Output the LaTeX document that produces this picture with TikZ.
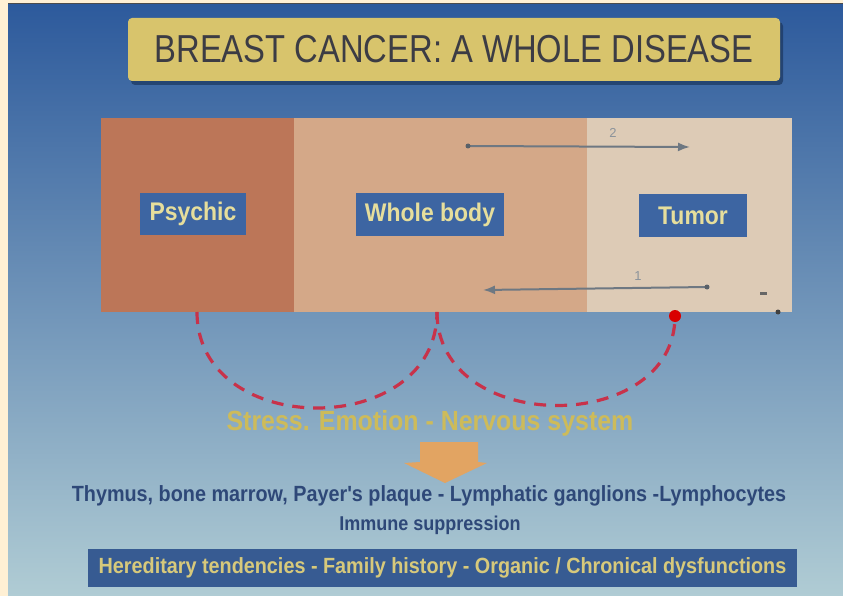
\documentclass[tikz,border=0pt]{standalone}
\usepackage{fontspec}
\setmainfont{Liberation Sans}
\newfontfamily\condfont[FakeStretch=0.9]{Liberation Sans}
\newfontfamily\titlefont[FakeStretch=0.84]{Liberation Sans}
\definecolor{cream}{HTML}{FFF0D4}
\definecolor{slidetop}{HTML}{2D5A9C}
\definecolor{slidemid}{HTML}{7FA5C8}
\definecolor{slidebottom}{HTML}{B0CCD4}
\definecolor{titlegold}{HTML}{D8C46C}
\definecolor{titleink}{HTML}{3C3C44}
\definecolor{psychred}{HTML}{BC7658}
\definecolor{bodytan}{HTML}{D4A888}
\definecolor{tumorbeige}{HTML}{DDCBB6}
\definecolor{labelblue}{HTML}{3D65A2}
\definecolor{labelyellow}{HTML}{E6DE9C}
\definecolor{arrowgray}{HTML}{6E7882}
\definecolor{dashred}{HTML}{C8324A}
\definecolor{stressgold}{HTML}{CDBB5A}
\definecolor{arrowtan}{HTML}{E2A462}
\definecolor{inkblue}{HTML}{2E4878}
\usetikzlibrary{arrows.meta,shadows}

\begin{document}
\begin{tikzpicture}[x=1pt,y=-1pt,
  labelbox/.style={fill=labelblue,text=labelyellow,inner sep=0pt,minimum height=42pt,
    font=\condfont\bfseries\fontsize{25.5}{28}\selectfont},
  flowline/.style={arrowgray,line width=2pt,-{Latex[length=12pt,width=9pt]}},
  reddash/.style={dashred,line width=3.2pt,dash pattern=on 12pt off 9pt}]
  \useasboundingbox (0,0) rectangle (843,596);
  \fill[cream] (0,0) rectangle (843,596);
  \shade[top color=slidetop,middle color=slidemid,bottom color=slidebottom] (8,4) rectangle (843,596);
  \draw[black!70,line width=1.5pt] (8,3.5) -- (843,3.5);

  \node[fill=titlegold,rounded corners=4pt,minimum width=652pt,minimum height=63pt,
    drop shadow={shadow xshift=3pt,shadow yshift=-4pt,fill=slidetop!60!black,opacity=0.7},
    text=titleink,font=\titlefont\fontsize{39}{44}\selectfont] (title) at (454,49.5)
    {BREAST CANCER: A WHOLE DISEASE};

  \fill[psychred] (101,118) rectangle (294,312);
  \fill[bodytan] (294,118) rectangle (587,312);
  \fill[tumorbeige] (587,118) rectangle (792,312);

  \node[labelbox,minimum width=106pt] (psychic) at (193,214) {Psychic};
  \node[labelbox,minimum width=148pt] (body) at (430,214.5) {Whole body};
  \node[labelbox,minimum width=108pt] (tumor) at (693,215.5) {Tumor};

  \coordinate (fwdtail) at (468,146);
  \coordinate (fwdhead) at (690,147);
  \coordinate (backtail) at (707,287);
  \coordinate (backhead) at (483,290);
  \draw[flowline] (fwdtail) -- (fwdhead);
  \draw[flowline] (backtail) -- (backhead);
  \fill[arrowgray!80!black] (fwdtail) circle (2.5);
  \fill[arrowgray!80!black] (backtail) circle (2.5);
  \node[arrowgray!80,font=\fontsize{13}{14}\selectfont] (two) at (613,133) {2};
  \node[arrowgray!80,font=\fontsize{13}{14}\selectfont] (one) at (638,276) {1};
  \fill[black!60] (760,291.5) rectangle (767,294.5);
  \fill[black!75] (778,312) circle (2.5);

  \coordinate (psyfoot) at (197,312);
  \coordinate (bodyfoot) at (437,312);
  \coordinate (tumfoot) at (675,316);
  \draw[reddash] (psyfoot) .. controls (197,440) and (437,440) .. (bodyfoot);
  \draw[reddash] (bodyfoot) .. controls (437,436) and (675,436) .. (tumfoot);
  \fill[red!85!black] (tumfoot) circle (6);

  \node[text=stressgold,font=\condfont\bfseries\fontsize{27.7}{30}\selectfont] (stress) at (430,423)
    {Stress. Emotion - Nervous system};
  \fill[arrowtan] (420,442) -- (478,442) -- (478,462) -- (487,463) -- (445,483)
    -- (404,463) -- (420,462) -- cycle;
  \node[text=inkblue,font=\condfont\bfseries\fontsize{22}{24}\selectfont] (organs) at (429,496)
    {Thymus, bone marrow, Payer's plaque - Lymphatic ganglions -Lymphocytes};
  \node[text=inkblue,font=\condfont\bfseries\fontsize{20}{24}\selectfont] (immune) at (430,525)
    {Immune suppression};
  \node[fill=labelblue!90!black,minimum width=709pt,minimum height=38pt,inner sep=0pt,
    text=stressgold!80!white,font=\condfont\bfseries\fontsize{22}{24}\selectfont] (history) at (442.5,568)
    {Hereditary tendencies - Family history - Organic / Chronical dysfunctions};
\end{tikzpicture}
\end{document}
